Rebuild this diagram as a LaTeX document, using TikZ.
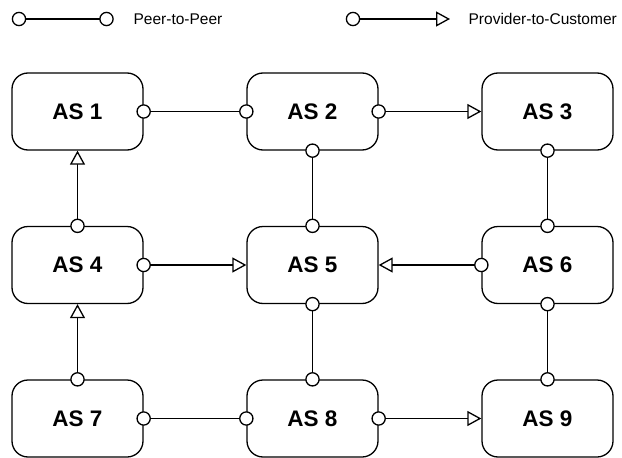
\documentclass[tikz,border=0pt]{standalone}
\usepackage{fontspec}
\setmainfont{Liberation Sans}
\usetikzlibrary{positioning,arrows.meta}

\begin{document}
\begin{tikzpicture}[x=1pt, y=-1pt, line width=1.3pt, node distance={153.5pt and 235pt}, on grid,
    as/.style = {draw, rounded corners=16pt, minimum width=131pt, minimum height=77pt, font=\fontsize{22.5}{24}\selectfont\bfseries},
    legend/.style = {anchor=west, inner sep=0pt, font=\fontsize{15.5}{17}\selectfont},
    peer/.style = {{Circle[fill=white, length=14.5pt]}-{Circle[fill=white, length=14.5pt]}, shorten <=-7.25pt, shorten >=-7.25pt},
    ptoc/.style = {{Circle[fill=white, length=14.5pt]}-{Triangle[fill=white, length=14pt, width=15pt]}, shorten <=-7.25pt}]
    \useasboundingbox (0,0) rectangle (622,458);
    % legend
    \coordinate (l1a) at (19,19);
    \coordinate (l1b) at (106.5,19);
    \coordinate (l2a) at (353,19);
    \coordinate (l2b) at (450,19);
    \draw[peer] (l1a) -- (l1b);
    \draw[ptoc] (l2a) -- (l2b);
    \node[legend] (t1) at (133,19) {Peer-to-Peer};
    \node[legend] (t2) at (468,19) {Provider-to-Customer};
    % autonomous systems
    \node[as] (a1) at (77.5,111.5) {AS 1};
    \node[as] (a2) [right=of a1] {AS 2};
    \node[as] (a3) [right=of a2] {AS 3};
    \node[as] (a4) [below=of a1] {AS 4};
    \node[as] (a5) [right=of a4] {AS 5};
    \node[as] (a6) [right=of a5] {AS 6};
    \node[as] (a7) [below=of a4] {AS 7};
    \node[as] (a8) [right=of a7] {AS 8};
    \node[as] (a9) [right=of a8] {AS 9};
    % links
    \draw[peer] (a1.east) -- (a2.west);
    \draw[ptoc] (a2.east) -- (a3.west);
    \draw[peer] (a2.south) -- (a5.north);
    \draw[peer] (a3.south) -- (a6.north);
    \draw[ptoc] (a4.north) -- (a1.south);
    \draw[ptoc] (a4.east) -- (a5.west);
    \draw[ptoc] (a6.west) -- (a5.east);
    \draw[ptoc] (a7.north) -- (a4.south);
    \draw[peer] (a5.south) -- (a8.north);
    \draw[peer] (a6.south) -- (a9.north);
    \draw[peer] (a7.east) -- (a8.west);
    \draw[ptoc] (a8.east) -- (a9.west);
\end{tikzpicture}
\end{document}
